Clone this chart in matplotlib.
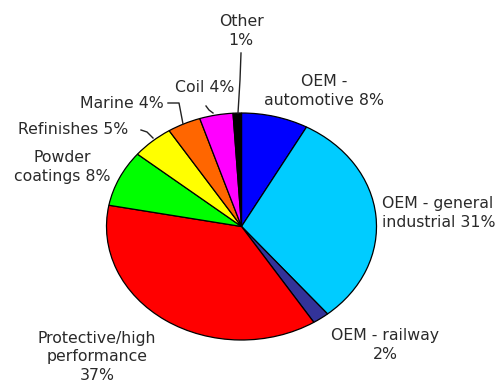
import matplotlib.pyplot as plt

plt.rcParams['font.family'] = ['DejaVu Sans']

# Market segments, clockwise from 12 o'clock
segments = ['OEM - automotive', 'OEM - general industrial', 'OEM - railway',
            'Protective/high performance', 'Powder coatings', 'Refinishes',
            'Marine', 'Coil', 'Other']
shares = [8, 31, 2, 37, 8, 5, 4, 4, 1]
seg_colors = ['#0000FF', '#00CCFF', '#333399', '#FF0000', '#00FF00',
              '#FFFF00', '#FF6600', '#FF00FF', '#000000']

W, H = 504, 383
fig = plt.figure(figsize=(W / 100, H / 100), dpi=100)
ax = fig.add_axes([0, 0, 1, 1])

ax.pie(shares, colors=seg_colors, startangle=90, counterclock=False,
       wedgeprops=dict(edgecolor='black', linewidth=0.9))

# stretch the pie into the slightly wide ellipse of the original
cx, cy, rx, ry = 241.5, 226.5, 135.0, 113.5
ax.set_aspect('auto')
ax.set_xlim(-cx / rx, (W - cx) / rx)
ax.set_ylim(-(H - cy) / ry, cy / ry)
ax.axis('off')


def pix(x, y):
    # pixel position (from top left) -> axes fraction
    return x / W, 1 - y / H


txt_color = '#2a2a2a'
labels = [
    ('Other\n1%', 241, 31, 'center'),
    ('Coil 4%', 205, 87, 'center'),
    ('Marine 4%', 122, 103, 'center'),
    ('Refinishes 5%', 73, 130, 'center'),
    ('Powder\ncoatings 8%', 62, 167, 'center'),
    ('OEM -\nautomotive 8%', 324, 91, 'center'),
    ('OEM - general\nindustrial 31%', 382, 213, 'left'),
    ('OEM - railway\n2%', 385, 345, 'center'),
    ('Protective/high\nperformance\n37%', 97, 357, 'center'),
]
for text, x, y, ha in labels:
    px, py = pix(x, y)
    ax.text(px, py, text, transform=ax.transAxes, ha=ha, va='center',
            fontsize=11.3, color=txt_color, linespacing=1.3,
            multialignment='center' if ha == 'center' else 'left')

# leader lines
leaders = [
    [(241, 53), (240, 80), (238, 113)],
    [(206, 106), (209, 110), (213, 113)],
    [(168, 103), (179, 103), (183, 124)],
    [(141, 130), (147, 132), (153, 138)],
]
for pts in leaders:
    xs = [pix(x, y)[0] for x, y in pts]
    ys = [pix(x, y)[1] for x, y in pts]
    ax.plot(xs, ys, color='#222222', linewidth=1.0, transform=ax.transAxes)

fig.savefig('out.png', dpi=100)
